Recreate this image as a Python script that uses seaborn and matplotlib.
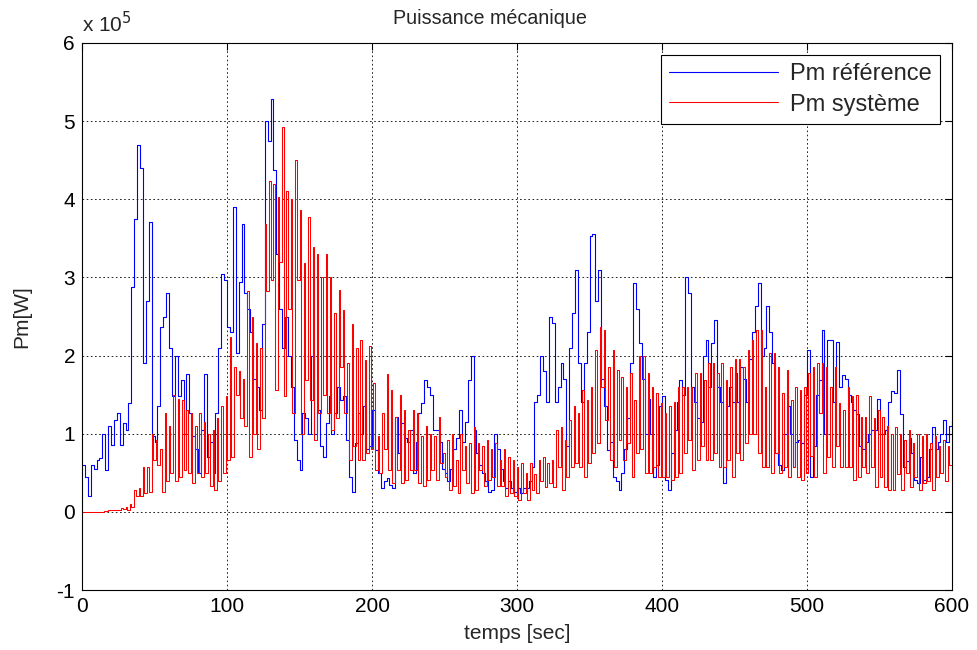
import numpy as np
import pandas as pd
import matplotlib
matplotlib.use("Agg")
import matplotlib.pyplot as plt
import seaborn as sns

# ─────────────────────────────────────────────
# DATA  (power in units of 1e5 W)
# ─────────────────────────────────────────────
# Pm reference, sampled every 2 s from 0 to 600 s
t_ref = np.arange(0, 601, 2)
pm_ref = [
    # 0 - 100 s
    0.6, 0.45, 0.2, 0.6, 0.55, 0.67, 0.69, 1.0, 0.54, 1.1,
    0.85, 1.18, 1.26, 0.85, 1.14, 1.05, 1.39, 2.88, 3.75, 4.69,
    4.4, 1.9, 2.7, 3.71, 0.97, 0.9, 1.35, 2.37, 2.5, 2.8,
    2.1, 1.48, 2.0, 1.48, 1.69, 1.0, 1.77, 1.26, 0.97, 0.8,
    0.5, 1.05, 1.77, 0.7, 0.9, 0.5, 1.26, 2.1, 3.05, 2.97,
    2.37,
    # 102 - 198 s
    2.3, 3.9, 2.03, 2.94, 3.69, 2.8, 2.6, 2.3, 1.7, 1.6,
    1.3, 2.41, 5.0, 4.75, 5.28, 4.37, 3.3, 2.6, 2.1, 2.5,
    2.0, 1.6, 0.92, 0.67, 0.54, 1.26, 1.2, 1.0, 2.0, 1.0,
    1.3, 0.84, 0.7, 1.14, 1.48, 1.0, 1.26, 1.6, 1.43, 1.48,
    0.92, 0.45, 0.26, 0.88, 1.26, 1.0, 1.35, 0.8, 0.84,
    # 200 - 294 s
    1.3, 0.79, 0.5, 0.3, 0.4, 0.43, 0.35, 0.3, 1.22, 0.75,
    1.14, 0.95, 0.9, 1.05, 0.5, 0.9, 1.26, 1.39, 1.69, 1.6,
    1.5, 1.05, 1.05, 0.9, 0.55, 0.5, 0.4, 0.55, 0.8, 0.95,
    1.3, 0.9, 1.15, 1.69, 1.99, 1.05, 0.75, 0.6, 0.5, 0.4,
    0.26, 0.28, 1.0, 0.8, 0.55, 0.4, 0.3, 0.4,
    # 296 - 390 s
    0.3, 0.25, 0.3, 0.24, 0.3, 0.3, 0.4, 0.58, 1.41, 1.5,
    1.99, 1.8, 1.4, 2.5, 2.42, 1.4, 1.6, 1.9, 1.7, 0.84,
    2.1, 2.54, 3.1, 1.9, 1.4, 1.9, 2.3, 3.53, 3.55, 2.7,
    3.1, 1.7, 1.35, 0.79, 0.9, 0.45, 0.4, 0.28, 0.5, 0.8,
    1.2, 1.9, 2.93, 2.6, 2.16, 1.7, 1.0, 1.45,
    # 392 - 486 s
    1.0, 0.45, 0.6, 1.35, 1.48, 0.41, 0.28, 0.75, 1.05, 1.4,
    1.69, 1.5, 3.01, 2.8, 1.6, 1.4, 1.2, 1.15, 1.99, 2.2,
    1.6, 2.16, 2.46, 1.6, 1.4, 0.37, 1.35, 1.6, 1.4, 1.78,
    1.4, 1.86, 1.7, 1.4, 1.95, 2.3, 2.63, 2.93, 2.0, 2.1,
    2.63, 2.3, 1.9, 0.75, 0.6, 0.53, 1.0, 1.35,
    # 488 - 600 s
    1.0, 0.58, 0.9, 0.92, 0.88, 1.5, 2.07, 0.45, 0.84, 1.5,
    1.69, 2.33, 1.0, 2.2, 2.2, 1.4, 2.18, 1.6, 1.75, 1.7,
    1.5, 1.4, 1.3, 1.25, 0.84, 0.8, 0.9, 1.0, 1.05, 1.05,
    1.45, 1.0, 1.0, 1.05, 1.4, 1.55, 1.52, 1.82, 1.25, 0.58,
    0.65, 0.95, 0.75, 0.41, 0.37, 0.7, 0.41, 0.45, 0.8, 1.09,
    0.8, 0.9, 1.0, 1.18, 0.9, 1.1, 1.18,
]

# Pm systeme: oscillating signal, one tooth every 3 s (short peak, then trough)
sys_top = [
    0, 0, 0, 0, 0, 0.01, 0.02, 0.02, 0.03, 0.05,
    0.06, 0.1, 0.28, 0.3, 0.58, 0.58, 1.0, 0.92, 0.8, 1.26,
    1.1, 1.5, 1.45, 1.43, 1.3, 1.26, 1.1, 1.26, 1.15, 1.0,
    1.05, 1.2, 1.35, 1.48, 2.24, 1.86, 1.8, 1.7, 2.83, 2.5,
    2.16, 2.1, 3.69, 4.24, 4.2, 4.03, 4.92, 4.1, 4.0, 4.5,
    3.86, 3.18, 3.77, 3.39, 3.3, 3.0, 3.3, 3.0, 2.54, 2.84,
    2.58, 1.9, 2.41, 2.1, 2.2, 1.94, 2.12, 1.65, 0.97, 1.26,
    1.77, 1.56, 1.22, 1.5, 1.3, 1.05, 1.3, 1.26, 0.97, 1.1,
    1.0, 0.97, 1.22, 0.75, 0.92, 1.0, 0.67, 1.0, 0.84, 0.88,
    1.08, 0.88, 0.84, 0.92, 0.8, 0.88, 0.67, 0.8, 0.7, 0.67,
    0.58, 0.62, 0.5, 0.62, 0.49, 0.67, 0.7, 0.62, 0.67, 1.05,
    1.09, 0.92, 1.18, 1.35, 1.26, 1.56, 1.43, 1.6, 2.07, 2.37,
    2.33, 1.86, 2.07, 1.82, 1.73, 1.6, 1.78, 1.43, 2.0, 1.99,
    1.78, 1.6, 1.52, 1.39, 1.26, 1.35, 1.4, 1.6, 1.6, 1.6,
    1.6, 1.78, 1.78, 1.69, 1.9, 1.9, 1.78, 1.9, 1.69, 1.86,
    1.95, 1.95, 1.86, 2.07, 2.2, 2.33, 2.33, 1.6, 2.03, 2.03,
    1.86, 1.52, 1.82, 1.43, 1.6, 1.56, 1.6, 1.78, 1.86, 1.9,
    1.9, 1.86, 1.6, 1.86, 1.39, 1.3, 1.6, 1.48, 1.5, 1.22,
    1.22, 1.48, 1.2, 1.3, 1.22, 1.1, 1.0, 1.09, 1.0, 0.92,
    1.05, 0.88, 1.0, 0.97, 1.0, 0.88, 0.97, 0.84, 0.92, 0.84,
]
sys_bot = [
    0, 0, 0, 0, 0, 0.01, 0.02, 0.02, 0.03, 0.04,
    0.03, 0.06, 0.2, 0.2, 0.24, 0.25, 0.67, 0.6, 0.25, 0.4,
    0.5, 0.4, 0.45, 0.54, 0.5, 0.37, 0.5, 0.45, 0.5, 0.33,
    0.28, 0.4, 0.5, 0.67, 0.7, 1.5, 1.2, 1.1, 0.7, 1.0,
    0.8, 1.2, 2.83, 2.97, 1.56, 3.2, 1.48, 2.6, 1.26, 2.97,
    1.0, 1.69, 1.43, 0.92, 1.26, 1.5, 1.26, 1.05, 1.2, 1.86,
    1.26, 0.67, 0.84, 0.67, 0.67, 0.75, 0.8, 0.54, 0.5, 0.8,
    0.54, 0.37, 0.54, 0.37, 0.41, 0.54, 0.54, 0.37, 0.33, 0.41,
    0.54, 0.41, 0.62, 0.45, 0.28, 0.33, 0.24, 0.54, 0.37, 0.24,
    0.28, 0.54, 0.33, 0.41, 0.45, 0.33, 0.33, 0.2, 0.24, 0.2,
    0.15, 0.24, 0.15, 0.28, 0.24, 0.4, 0.32, 0.37, 0.32, 0.58,
    0.28, 0.45, 0.58, 0.62, 0.58, 0.45, 0.62, 0.75, 0.88, 1.6,
    1.18, 0.67, 0.58, 0.92, 0.67, 0.88, 0.45, 0.75, 0.8, 0.5,
    0.5, 0.58, 0.45, 0.45, 0.45, 0.41, 0.45, 0.5, 0.75, 0.92,
    0.54, 0.67, 0.84, 0.67, 0.67, 0.75, 0.58, 0.58, 0.67, 0.45,
    0.75, 0.67, 0.88, 1.0, 1.0, 0.75, 0.58, 0.58, 0.5, 0.75,
    0.5, 0.58, 0.45, 0.58, 0.45, 0.41, 0.5, 0.72, 0.45, 1.26,
    0.5, 0.7, 0.58, 0.84, 0.58, 0.58, 0.58, 0.41, 0.45, 0.58,
    0.5, 0.58, 0.32, 0.45, 0.32, 0.28, 0.28, 0.49, 0.28, 0.5,
    0.32, 0.45, 0.28, 0.37, 0.4, 0.28, 0.45, 0.5, 0.4, 0.6,
]

x_ticks = [0, 100, 200, 300, 400, 500, 600]
y_ticks = [-1, 0, 1, 2, 3, 4, 5, 6]

# ─────────────────────────────────────────────
# BUILD TABLES
# ─────────────────────────────────────────────
df_ref = pd.DataFrame({"t": t_ref, "Pm": pm_ref})
tooth_start = np.arange(0, 600, 3.0)
t_sys = np.column_stack([tooth_start, tooth_start + 1.0]).ravel()
pm_sys = np.column_stack([sys_top, sys_bot]).ravel()
t_sys = np.append(t_sys, 600)
pm_sys = np.append(pm_sys, pm_sys[-1])
df_sys = pd.DataFrame({"t": t_sys, "Pm": pm_sys})

# ─────────────────────────────────────────────
# PLOT
# ─────────────────────────────────────────────
sns.set_style("white")
plt.rcParams['font.family'] = ['Liberation Sans', 'DejaVu Sans']
plt.rcParams['axes.unicode_minus'] = False

fig = plt.figure(figsize=(9.77, 6.5), dpi=100)
ax = fig.add_axes([82 / 977, 1 - 590 / 650, 870 / 977, 547 / 650])

sns.lineplot(data=df_ref, x="t", y="Pm", ax=ax, color=(0, 0, 1), lw=0.8,
             drawstyle="steps-post", estimator=None, label="Pm référence")
sns.lineplot(data=df_sys, x="t", y="Pm", ax=ax, color=(1, 0, 0), lw=0.75,
             drawstyle="steps-post", estimator=None, label="Pm système")

ax.set_xlim(0, 600)
ax.set_ylim(-1, 6)
ax.set_xticks(x_ticks)
ax.set_yticks(y_ticks)
ax.tick_params(direction="in", length=5, width=0.8, labelsize=15,
               top=True, right=True, colors="black", pad=5)
ax.grid(True, color="black", linestyle=(0, (2, 3)), linewidth=0.6)
for s in ax.spines.values():
    s.set_color("black")
    s.set_linewidth(0.8)

ax.set_xlabel("temps [sec]", fontsize=15, labelpad=6)
ax.set_ylabel("Pm[W]", fontsize=15, labelpad=18)
fig.text(490 / 977, 1 - 18 / 650, "Puissance mécanique", fontsize=14.2,
         ha="center", va="center")
ax.text(0.0, 1.012, r"x 10$^5$", transform=ax.transAxes, fontsize=15,
        ha="left", va="bottom")

leg = ax.legend(loc="upper right", fontsize=17, frameon=True, fancybox=False,
                edgecolor="black", framealpha=1, borderpad=0.35,
                handlelength=4.6, handletextpad=0.5, labelspacing=0.35,
                borderaxespad=0, bbox_to_anchor=(0.986, 0.978))
leg.get_frame().set_linewidth(0.8)

fig.savefig("out.png", dpi=100, facecolor="white")
